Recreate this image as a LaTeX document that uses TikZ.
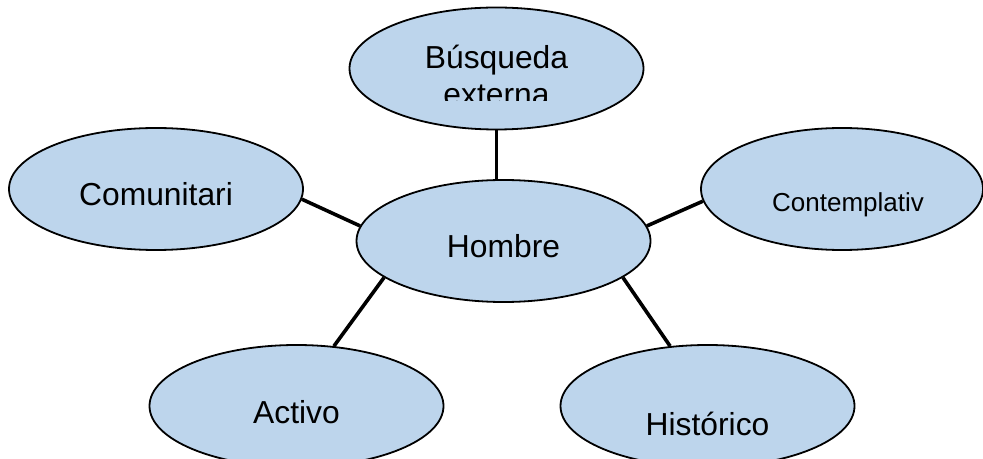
\documentclass[tikz,border=0pt]{standalone}
\usepackage{fontspec}
\setmainfont{Liberation Sans}
\usetikzlibrary{shapes.geometric}

\definecolor{ellipfill}{RGB}{189,213,236}

\tikzset{
    ellip/.style={ellipse, draw=black, line width=0.9pt, fill=ellipfill, inner sep=0pt,
        minimum width=147pt, minimum height=61pt},
    ellipline/.style={line width=1.8pt},
    ellipname/.style={font=\fontsize{15.9}{19}\selectfont, inner sep=0pt, anchor=base},
}

\begin{document}
\begin{tikzpicture}[x=0.5pt, y=-0.5pt]

    \useasboundingbox (0,0) rectangle (983,459);

    % the six ellipses
    \node[ellip] (hombre) at (503.5,241) {};
    \node[ellip] (busqueda) at (496.5,68.5) {};
    \node[ellip] (comunitari) at (156,189) {};
    \node[ellip, minimum width=141pt] (contemplativ) at (842,189) {};
    \node[ellip] (activo) at (296.5,406) {};
    \node[ellip] (historico) at (707.5,406) {};

    % Hombre (centre)
    \node[ellipname] (hombre-t) at ([yshift=-8pt]hombre.center) {Hombre};

    % Busqueda externa (cut at the bottom)
    \begin{scope}
        \clip (busqueda.north west) rectangle ([yshift=-16.25pt]busqueda.east);
        \node[ellipname] (busqueda-t) at (busqueda.center) {Búsqueda};
        \node[ellipname] (externa-t) at ([yshift=-18.5pt]busqueda-t.base) {externa};
    \end{scope}

    % Comunitari, Contemplativ, Activo, Historico
    \node[ellipname] (comunitari-t) at ([yshift=-8.5pt]comunitari.center) {Comunitari};
    \node[ellipname, font=\fontsize{13}{15}\selectfont] (contemplativ-t) at ([xshift=3pt, yshift=-11.5pt]contemplativ.center) {Contemplativ};
    \node[ellipname] (activo-t) at ([yshift=-8.5pt]activo.center) {Activo};
    \node[ellipname] (historico-t) at ([yshift=-14.5pt]historico.center) {Histórico};

    % connectors
    \draw[ellipline] (busqueda.south) -- (busqueda.south |- hombre.north);   % BE x H
    \draw[ellipline] (comunitari.-4) -- (hombre.174);                        % C x H
    \draw[ellipline] (hombre.6) -- (contemplativ.-175);                      % H x Ct
    \draw[ellipline] (hombre.-163) -- (activo.58);                           % H x A
    \draw[ellipline] (hombre.-17) -- (historico.122);                        % H x Hi

\end{tikzpicture}
\end{document}
